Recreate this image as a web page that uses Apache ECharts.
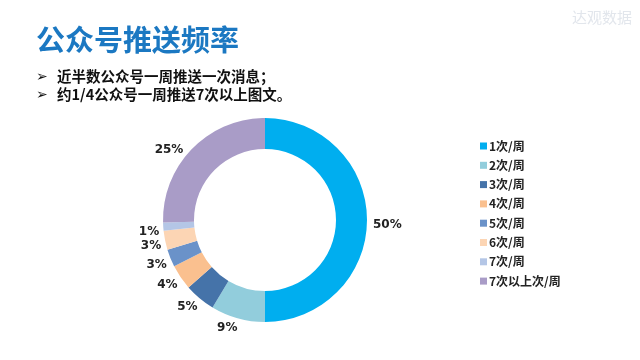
<!DOCTYPE html>
<html><head><meta charset="utf-8">
<script src="https://cdn.jsdelivr.net/npm/echarts@6/dist/echarts.min.js"></script>
<style>html,body{margin:0;padding:0;background:#fff}#c{width:640px;height:360px}</style>
</head><body><div id="c"></div>
<script>
const categories = ['1次/周','2次/周','3次/周','4次/周','5次/周','6次/周','7次/周','7次以上次/周'];
const values = [50, 8.6, 4.9, 4.0, 2.8, 3.0, 1.3, 25.4];
const colors = ['#00AEEF','#92CDDC','#4573A9','#FAC08F','#6A92C9','#FCD5B4','#B4C6E6','#A99CC7'];
const bullets = ['近半数公众号一周推送一次消息；','约1/4公众号一周推送7次以上图文。'];

const chart = echarts.init(document.getElementById('c'));
const font = '"Noto Sans CJK SC", "Microsoft YaHei", sans-serif';
chart.setOption({
  animation: false,
  title: {
    text: '公众号推送频率', left: 31, top: 20,
    textStyle: { fontSize: 29, fontWeight: 'bold', color: '#1B78C2', fontFamily: font }
  },
  graphic: [
    { type: 'text', right: 8, top: 10, style: { text: '达观数据', fontSize: 15, fill: '#E2E6EC', fontFamily: font } },
    { type: 'text', left: 36, top: 70, style: { text: '➢', fontSize: 14, fontWeight: 'bold', fill: '#111', fontFamily: 'DejaVu Sans' } },
    { type: 'text', left: 57, top: 69, style: { text: bullets[0], fontSize: 14.5, fontWeight: 'bold', fill: '#111', fontFamily: font } },
    { type: 'text', left: 36, top: 88, style: { text: '➢', fontSize: 14, fontWeight: 'bold', fill: '#111', fontFamily: 'DejaVu Sans' } },
    { type: 'text', left: 57, top: 87, style: { text: bullets[1], fontSize: 14.5, fontWeight: 'bold', fill: '#111', fontFamily: font } }
  ],
  legend: {
    orient: 'vertical', left: 475, top: 135, itemWidth: 7, itemHeight: 7, itemGap: 7.3,
    icon: 'rect', data: categories,
    textStyle: { fontSize: 12, fontWeight: 'bold', color: '#222', fontFamily: font, padding: [0,0,0,-3] }
  },
  series: [{
    type: 'pie', center: [265, 220], radius: [71, 102], startAngle: 90, clockwise: true,
    color: colors,
    data: categories.map((n, i) => ({ name: n, value: values[i], labelLine: { length: i === 0 ? 1 : 5 } })),
    label: { show: true, position: 'outside', formatter: p => Math.round(p.value) + '%', fontSize: 12, fontWeight: 'bold', color: '#222', fontFamily: 'DejaVu Sans' },
    labelLine: { show: false, length: 5, length2: 0 },
    labelLayout: p => ({ dy: 5, dx: (p.labelRect.x < 240 && p.labelRect.y > 215) ? 6 : 0 }),
    emphasis: { disabled: true }
  }]
});
</script></body></html>
